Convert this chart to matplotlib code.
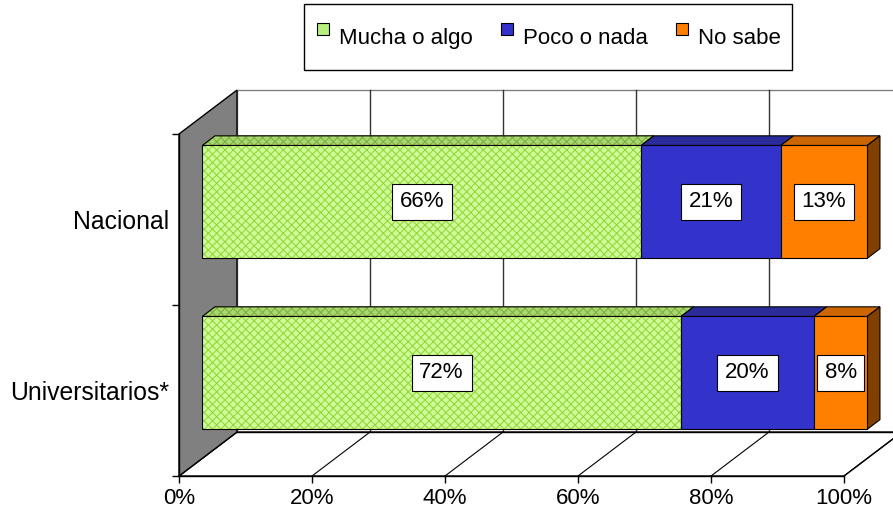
"""Stacked 3D-style horizontal bar chart: confianza por grupo."""

import matplotlib.pyplot as plt
from matplotlib.lines import Line2D
from matplotlib.patches import Polygon

plt.rcParams["font.family"] = ["Liberation Sans", "DejaVu Sans"]
plt.rcParams["hatch.linewidth"] = 0.8

CATEGORIES = ["Nacional", "Universitarios*"]
SERIES = ["Mucha o algo", "Poco o nada", "No sabe"]
MUCHA = [66, 72]
POCO = [21, 20]
NO_SABE = [13, 8]
X_TICKS = [0, 20, 40, 60, 80, 100]

STYLES = {
    "Mucha o algo": {"front": "#ccff99", "hatch": "#9ad43c", "top": "#a8d870", "top_hatch": "#80b040", "side": "#88b848"},
    "Poco o nada": {"front": "#3333cc", "hatch": None, "top": "#2b2b99", "top_hatch": None, "side": "#22227a"},
    "No sabe": {"front": "#ff8000", "hatch": None, "top": "#cc6600", "top_hatch": None, "side": "#804000"},
}

# oblique projection: full depth of the plot box in data units
DEPTH_X = 8.72
DEPTH_Y = -0.257
BAR_FRONT = 0.40
BAR_BACK = 0.62
BAR_HALF = 0.33
FONT_SIZE = 16
CAT_FONT_SIZE = 17.8


def proj(x, y, d):
    return (x + d * DEPTH_X, y + d * DEPTH_Y)


def face(ax, pts, color, hatch=None, hatch_color=None, edge="black", lw=0.8, z=3):
    if hatch:
        ax.add_patch(Polygon(pts, closed=True, facecolor=color, edgecolor=hatch_color,
                             hatch=hatch, linewidth=0.5, clip_on=False, zorder=z))
        ax.add_patch(Polygon(pts, closed=True, facecolor="none", edgecolor=edge,
                             linewidth=lw, clip_on=False, zorder=z))
    else:
        ax.add_patch(Polygon(pts, closed=True, facecolor=color, edgecolor=edge,
                             linewidth=lw, clip_on=False, zorder=z))


def draw_box(ax):
    n = len(CATEGORIES)
    # back wall
    wall = [proj(0, 0, 1), proj(110, 0, 1), proj(110, n, 1), proj(0, n, 1)]
    ax.add_patch(Polygon(wall, closed=True, facecolor="white", edgecolor="#808080",
                         linewidth=1, clip_on=False, zorder=0.5))
    for t in X_TICKS[1:]:
        ax.plot(*zip(proj(t, 0, 1), proj(t, n, 1)), color="#333333", lw=1,
                clip_on=False, zorder=0.6)
    # floor
    floor = [proj(0, n, 0), proj(100, n, 0), proj(100, n, 1), proj(0, n, 1)]
    ax.add_patch(Polygon(floor, closed=True, facecolor="white", edgecolor="black",
                         linewidth=1, clip_on=False, zorder=0.7))
    ax.plot(*zip(proj(0, n, 1), proj(110, n, 1)), color="black", lw=1, clip_on=False, zorder=0.8)
    for t in X_TICKS:
        ax.plot(*zip(proj(t, n, 0), proj(t, n, 1)), color="black", lw=0.8,
                clip_on=False, zorder=0.8)
    # left wall
    left = [proj(0, 0, 0), proj(0, n, 0), proj(0, n, 1), proj(0, 0, 1)]
    ax.add_patch(Polygon(left, closed=True, facecolor="#808080", edgecolor="black",
                         linewidth=1, clip_on=False, zorder=0.9))


def draw_bars(ax):
    values = {"Mucha o algo": MUCHA, "Poco o nada": POCO, "No sabe": NO_SABE}
    for i, cat in enumerate(CATEGORIES):
        c = i + 0.5
        top, bottom = c - BAR_HALF, c + BAR_HALF
        left = 0
        for k, name in enumerate(SERIES):
            v = values[name][i]
            right = left + v
            st = STYLES[name]
            face(ax, [proj(left, top, BAR_FRONT), proj(right, top, BAR_FRONT),
                      proj(right, top, BAR_BACK), proj(left, top, BAR_BACK)],
                 st["top"], st["top_hatch"] and "xxxx", st["top_hatch"], z=3)
            if k == len(SERIES) - 1:
                face(ax, [proj(right, top, BAR_FRONT), proj(right, bottom, BAR_FRONT),
                          proj(right, bottom, BAR_BACK), proj(right, top, BAR_BACK)],
                     st["side"], z=3)
            face(ax, [proj(left, top, BAR_FRONT), proj(right, top, BAR_FRONT),
                      proj(right, bottom, BAR_FRONT), proj(left, bottom, BAR_FRONT)],
                 st["front"], st["hatch"] and "xxxx", st["hatch"], z=4)
            tx, ty = proj((left + right) / 2, c, BAR_FRONT)
            ax.text(tx, ty, f"{v}%", ha="center", va="center", fontsize=FONT_SIZE,
                    zorder=6, bbox={"boxstyle": "square,pad=0.35", "facecolor": "white",
                                    "edgecolor": "black", "linewidth": 0.8})
            left = right


def main():
    fig = plt.figure(figsize=(8.93, 5.15), dpi=100)
    ax = fig.add_axes([179 / 893, 39 / 515, 665 / 893, 342 / 515])
    ax.set_xlim(0, 100)
    ax.set_ylim(len(CATEGORIES), 0)
    ax.patch.set_visible(False)
    for side in ("top", "right"):
        ax.spines[side].set_visible(False)
    for side in ("left", "bottom"):
        ax.spines[side].set_linewidth(1)
        ax.spines[side].set_zorder(1)

    draw_box(ax)
    draw_bars(ax)

    ax.set_xticks(X_TICKS)
    ax.set_xticklabels([f"{t}%" for t in X_TICKS], fontsize=FONT_SIZE)
    ax.tick_params(axis="x", direction="out", length=5, width=1, pad=4)
    ax.set_yticks(range(len(CATEGORIES) + 1))
    ax.set_yticklabels([])
    ax.set_yticks([i + 0.5 for i in range(len(CATEGORIES))], minor=True)
    ax.set_yticklabels(CATEGORIES, minor=True, fontsize=CAT_FONT_SIZE)
    ax.tick_params(axis="y", which="major", direction="out", length=5, width=1)
    ax.tick_params(axis="y", which="minor", length=0, pad=7)

    handles = [
        Line2D([], [], marker="s", linestyle="none", markersize=8,
               markerfacecolor=STYLES[name]["front"] if name != "Mucha o algo" else "#b8ee80",
               markeredgecolor="black", markeredgewidth=0.8, label=name)
        for name in SERIES
    ]
    leg = fig.legend(handles=handles, loc="upper center", bbox_to_anchor=(548 / 893, 1 - 4 / 515),
                     ncol=3, fontsize=FONT_SIZE, frameon=True, fancybox=False, framealpha=1,
                     edgecolor="black", borderpad=0.5, handleheight=2.65, handlelength=0.7,
                     handletextpad=0.35, columnspacing=1.2, borderaxespad=0)
    leg.get_frame().set_linewidth(1)

    fig.savefig("out.png", dpi=100)
    plt.close(fig)


if __name__ == "__main__":
    main()
